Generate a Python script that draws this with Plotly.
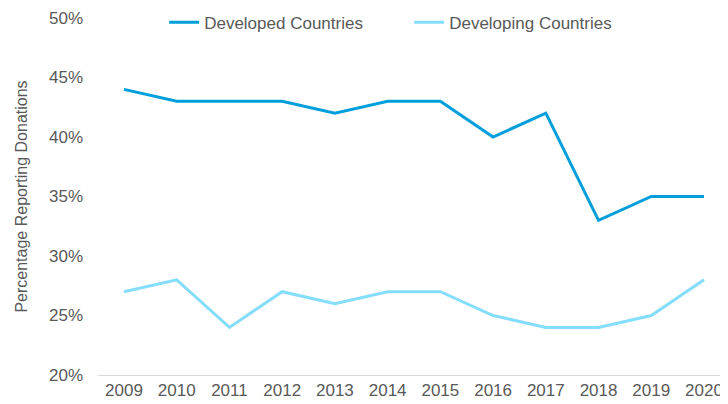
import plotly.graph_objects as go

years = [2009, 2010, 2011, 2012, 2013, 2014, 2015, 2016, 2017, 2018, 2019, 2020]
developed = [44, 43, 43, 43, 42, 43, 43, 40, 42, 33, 35, 35]
developing = [27, 28, 24, 27, 26, 27, 27, 25, 24, 24, 25, 28]
y_ticks = [20, 25, 30, 35, 40, 45, 50]
y_labels = [f"{v}%" for v in y_ticks]

fig = go.Figure()
fig.add_trace(go.Scatter(x=years, y=developed, mode="lines", name="Developed Countries",
                         line=dict(color="#009FDB", width=3)))
fig.add_trace(go.Scatter(x=years, y=developing, mode="lines", name="Developing Countries",
                         line=dict(color="#84DDFB", width=3)))

font = dict(family="Liberation Sans, Arial, sans-serif", size=17, color="#595959")
fig.update_layout(
    width=720, height=396,
    margin=dict(l=90, r=0, t=10, b=29, autoexpand=False),
    plot_bgcolor="white", paper_bgcolor="white",
    font=font,
    showlegend=True,
    legend=dict(orientation="h", x=0.105, xanchor="left", y=0.987, yanchor="middle",
                font=font, bgcolor="rgba(0,0,0,0)", entrywidth=200, entrywidthmode="pixels"),
    xaxis=dict(tickmode="array", tickvals=years, ticktext=[str(y) for y in years],
               range=[2008.507, 2020.455], showgrid=False, zeroline=False, automargin=False,
               showline=True, linecolor="#D9D9D9", linewidth=1, ticks=""),
    yaxis=dict(tickmode="array", tickvals=y_ticks, ticktext=y_labels, range=[20, 50],
               showgrid=False, zeroline=False, showline=False, ticks="", automargin=False,
               ticklabelstandoff=14,
               title=dict(text="Percentage Reporting Donations", font=dict(size=16, family=font["family"], color="#595959"), standoff=17)),
)
fig.write_html("out.html")
